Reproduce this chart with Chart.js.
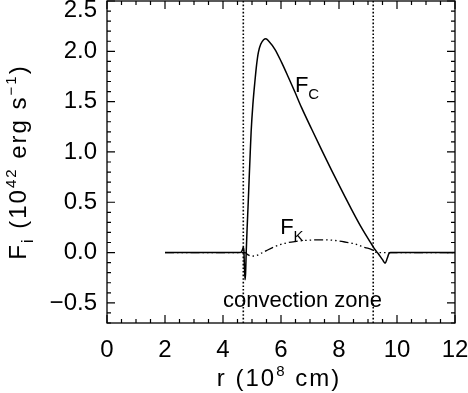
<!DOCTYPE html>
<html><head><meta charset="utf-8">
<script src="https://cdn.jsdelivr.net/npm/chart.js@4/dist/chart.umd.min.js"></script>
<style>html,body{margin:0;padding:0;background:#fff}#wrap{width:468px;height:393px;position:relative}</style>
</head><body><div id="wrap"><canvas id="c" width="468" height="393"></canvas></div>
<script>
// ---- data ----
const rConv = [2.0, 4.60, 4.66, 4.70, 4.72, 4.74, 4.76, 4.78, 4.80, 4.83, 4.87, 4.90, 4.94, 4.97, 5.03, 5.10, 5.16, 5.22, 5.30, 5.40, 5.48, 5.58, 5.79, 6.02, 6.25, 6.48, 6.71, 7.06, 7.40, 7.75, 8.09, 8.44, 8.78, 9.13, 9.24, 9.35, 9.50, 9.59, 9.66, 9.72, 9.78, 12.0];
const fluxConv = [0, 0, 0.02, 0.05, 0.02, -0.15, -0.27, -0.2, 0.0, 0.23, 0.5, 0.72, 1.0, 1.2, 1.47, 1.70, 1.87, 1.99, 2.07, 2.115, 2.125, 2.10, 2.02, 1.89, 1.745, 1.595, 1.44, 1.225, 1.02, 0.815, 0.62, 0.425, 0.245, 0.08, 0.03, -0.01, -0.07, -0.105, -0.06, -0.01, 0, 0];
const rKin = [2.0, 4.70, 4.76, 4.85, 5.00, 5.15, 5.30, 5.50, 5.79, 6.10, 6.48, 6.80, 7.17, 7.50, 7.86, 8.20, 8.55, 8.90, 9.13, 9.30, 12.0];
const fluxKin = [0, 0, 0, -0.02, -0.035, -0.03, -0.01, 0.02, 0.06, 0.09, 0.11, 0.12, 0.126, 0.127, 0.12, 0.105, 0.085, 0.05, 0.03, 0, 0];
const zoneEdges = [4.70, 9.18];
const xTickValues = [0, 2, 4, 6, 8, 10, 12];
const yTickValues = [-0.5, 0.0, 0.5, 1.0, 1.5, 2.0, 2.5];
const xRange = [0, 12];
const yRange = [-0.7, 2.5];
const xMinorStep = 0.5;
const yMinorStep = 0.1;
const curveLabels = [
  {main: 'F', sub: 'C', x: 6.48, y: 1.60},
  {main: 'F', sub: 'K', x: 5.97, y: 0.186}
];
const zoneLabel = {text: 'convection zone', x: 6.74, y: -0.54};

// ---- chart ----
const FONT = 'Liberation Sans, Arial, Helvetica, sans-serif';
const toXY = (xs, ys) => xs.map((x, i) => ({x: x, y: ys[i]}));

const datasets = [
  {label: 'F_C', data: toXY(rConv, fluxConv), borderColor: '#000', borderWidth: 1.5,
   pointRadius: 0, cubicInterpolationMode: 'monotone', fill: false},
  {label: 'F_K', data: toXY(rKin, fluxKin), borderColor: '#000', borderWidth: 1.3,
   borderDash: [9, 3, 1.5, 3, 1.5, 3, 1.5, 3], pointRadius: 0, cubicInterpolationMode: 'monotone', fill: false}
];
zoneEdges.forEach(e => datasets.push({
  label: 'edge', data: [{x: e, y: yRange[0]}, {x: e, y: yRange[1]}], borderColor: '#000',
  borderWidth: 1.6, borderDash: [1.6, 2], pointRadius: 0, fill: false
}));

function drawRich(ctx, segs, cx, cy, angle, spacing) {
  ctx.save();
  ctx.translate(cx, cy);
  ctx.rotate(angle);
  ctx.fillStyle = '#000';
  ctx.textBaseline = 'alphabetic';
  ctx.textAlign = 'left';
  if ('letterSpacing' in ctx) ctx.letterSpacing = spacing + 'px';
  let total = 0;
  segs.forEach(s => { ctx.font = s.size + 'px ' + FONT; s.w = ctx.measureText(s.t).width; total += s.w; });
  let x = -total / 2;
  segs.forEach(s => { ctx.font = s.size + 'px ' + FONT; ctx.fillText(s.t, x, s.dy); x += s.w; });
  ctx.restore();
}

const decorations = {
  id: 'decorations',
  afterDatasetsDraw(chart) {
    const ctx = chart.ctx, xs = chart.scales.x, ys = chart.scales.y, a = chart.chartArea;
    ctx.save();
    ctx.strokeStyle = '#000';
    ctx.lineWidth = 1.3;
    ctx.strokeRect(a.left, a.top, a.right - a.left, a.bottom - a.top);
    ctx.lineWidth = 1.2;
    ctx.beginPath();
    const nx = Math.round((xRange[1] - xRange[0]) / xMinorStep);
    for (let i = 0; i <= nx; i++) {
      const v = xRange[0] + i * xMinorStep;
      const major = xTickValues.some(t => Math.abs(t - v) < 1e-6);
      const len = major ? 8 : 4;
      const px = xs.getPixelForValue(v);
      ctx.moveTo(px, a.bottom); ctx.lineTo(px, a.bottom - len);
      ctx.moveTo(px, a.top); ctx.lineTo(px, a.top + len);
    }
    const ny = Math.round((yRange[1] - yRange[0]) / yMinorStep);
    for (let i = 0; i <= ny; i++) {
      const v = yRange[0] + i * yMinorStep;
      const major = yTickValues.some(t => Math.abs(t - v) < 1e-6);
      const len = major ? 8 : 4;
      const py = ys.getPixelForValue(v);
      ctx.moveTo(a.left, py); ctx.lineTo(a.left + len, py);
      ctx.moveTo(a.right, py); ctx.lineTo(a.right - len, py);
    }
    ctx.stroke();
    ctx.restore();

    // curve labels
    ctx.save();
    ctx.fillStyle = '#000';
    ctx.textBaseline = 'alphabetic';
    ctx.textAlign = 'left';
    curveLabels.forEach(l => {
      const px = xs.getPixelForValue(l.x), py = ys.getPixelForValue(l.y);
      ctx.font = '22px ' + FONT;
      ctx.fillText(l.main, px, py);
      const w = ctx.measureText(l.main).width;
      ctx.font = '15px ' + FONT;
      ctx.fillText(l.sub, px + w, py + 7);
    });
    ctx.font = '22px ' + FONT;
    ctx.textAlign = 'center';
    ctx.fillText(zoneLabel.text, xs.getPixelForValue(zoneLabel.x), ys.getPixelForValue(zoneLabel.y));
    ctx.restore();

    // axis titles
    drawRich(ctx, [
      {t: 'F', size: 24, dy: 0}, {t: 'i', size: 16, dy: 7},
      {t: ' (10', size: 24, dy: 0}, {t: '42', size: 15, dy: -10},
      {t: ' erg s', size: 24, dy: 0}, {t: '\u22121', size: 15, dy: -10},
      {t: ')', size: 24, dy: 0}
    ], 26, (a.top + a.bottom) / 2, -Math.PI / 2, 2);
    drawRich(ctx, [
      {t: 'r (10', size: 24, dy: 0}, {t: '8', size: 15, dy: -10},
      {t: ' cm)', size: 24, dy: 0}
    ], (a.left + a.right) / 2 - 2, 386, 0, 2);
  }
};

const fmtY = v => (v < 0 ? '\u2212' : '') + Math.abs(v).toFixed(1);

new Chart(document.getElementById('c'), {
  type: 'line',
  data: {datasets: datasets},
  plugins: [decorations],
  options: {
    responsive: false,
    animation: false,
    devicePixelRatio: 1,
    layout: {padding: {top: 1, right: 13, left: 0, bottom: 0}},
    plugins: {legend: {display: false}, tooltip: {enabled: false}},
    scales: {
      x: {
        type: 'linear', min: xRange[0], max: xRange[1],
        afterBuildTicks: s => { s.ticks = xTickValues.map(v => ({value: v})); },
        afterFit: s => { s.height = 70; s.paddingLeft = 0; s.paddingRight = 0; },
        grid: {display: false, drawTicks: false},
        border: {display: false},
        ticks: {color: '#000', padding: 13, maxRotation: 0, autoSkip: false,
                font: {family: FONT, size: 24}, callback: v => String(v)}
      },
      y: {
        type: 'linear', min: yRange[0], max: yRange[1],
        afterBuildTicks: s => { s.ticks = yTickValues.map(v => ({value: v})); },
        afterFit: s => { s.width = 107; s.paddingTop = 0; s.paddingBottom = 0; },
        grid: {display: false, drawTicks: false},
        border: {display: false},
        ticks: {color: '#000', padding: 10, autoSkip: false,
                font: c => ({family: FONT, size: 24, lineHeight: (c.tick && c.tick.value === yRange[1]) ? 0.8 : 1.2}),
                callback: v => v === yRange[1] ? ['', fmtY(v)] : fmtY(v)}
      }
    }
  }
});
</script>
</body></html>
